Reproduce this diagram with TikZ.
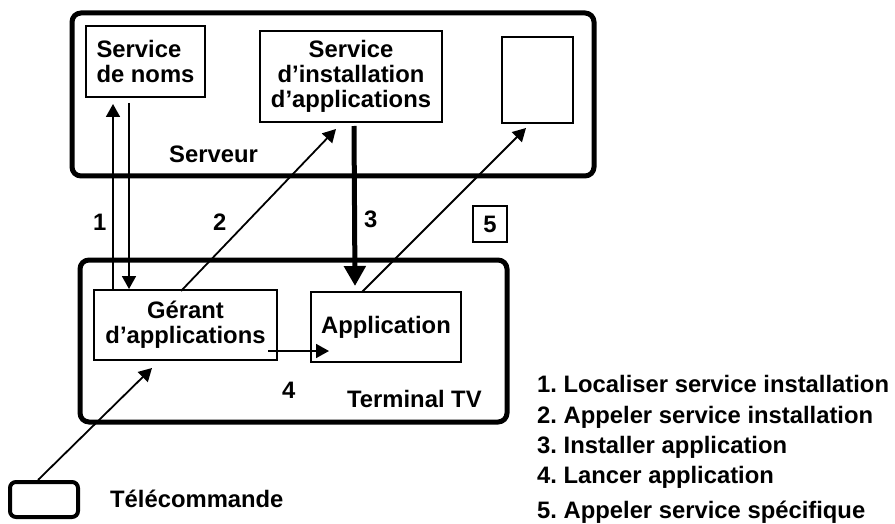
\documentclass[tikz,border=0pt]{standalone}
\usepackage{fontspec}
\setmainfont{Liberation Sans}
\usetikzlibrary{arrows.meta}
\frenchspacing
\begin{document}
\begin{tikzpicture}[x=1pt,y=-1pt,
  lbl/.style={font=\fontsize{23.8}{25}\selectfont\bfseries\frenchspacing, inner sep=0pt},
  box/.style={draw, line width=2pt, inner sep=0pt, lbl, align=center},
  frame/.style={draw, line width=5pt, rounded corners=9pt, inner sep=0pt},
  arr/.style={line width=1.8pt, -{Triangle[length=13pt,width=14pt]}},
  bigarr/.style={line width=5pt, -{Triangle[length=20pt,width=21pt]}},
]
\useasboundingbox (0,0) rectangle (895,524);

% outer frames
\node[frame, minimum width=522pt, minimum height=163pt] (serveur) at (333,94.5) {};
\node[frame, minimum width=427pt, minimum height=162pt] (terminal) at (293.5,341) {};
\node[frame, line width=4pt, rounded corners=6pt, minimum width=68pt, minimum height=35pt] (tele) at (44,499.5) {};

% server side
\node[box, align=left, minimum width=119pt, minimum height=71pt] (noms) at (145.5,61.5) {Service\\de noms};
\node[box, minimum width=182pt, minimum height=91pt] (inst) at (351,76.5) {Service\\d’installation\\d’applications};
\node[box, minimum width=71pt, minimum height=86pt] (spec) at (537.5,80) {};

% terminal side
\node[box, minimum width=183pt, minimum height=70pt] (ger) at (185.5,325) {Gérant\\d’applications};
\node[box, minimum width=150pt, minimum height=70pt] (app) at (386,327) {Application};

% labels
\node[lbl, anchor=base west] (serveurlbl) at (169,163) {Serveur};
\node[lbl, anchor=base west] (terminallbl) at (347,407) {Terminal TV};
\node[lbl, anchor=base west] (telelbl) at (110,507) {Télécommande};
\node[lbl, anchor=base west] (n1) at (93,230) {1};
\node[lbl, anchor=base west] (n2) at (213,230) {2};
\node[lbl, anchor=base west] (n3) at (364,227) {3};
\node[lbl, anchor=base west] (n4) at (282,398) {4};
\node[lbl, draw, line width=1.5pt, minimum width=34pt, minimum height=36pt] (n5) at (490,224) {5};

% connectors
\draw[arr] ([xshift=20pt]ger.north west) -- ([xshift=28pt,yshift=-6pt]noms.south west);
\draw[arr] ([xshift=44pt,yshift=-5pt]noms.south west) -- ([xshift=36pt]ger.north west);
\draw[arr] ([xshift=88pt,yshift=-2pt]ger.north west) -- ([xshift=77pt,yshift=-6pt]inst.south west);
\draw[bigarr] ([xshift=95pt,yshift=-3pt]inst.south west) -- ([xshift=45pt,yshift=5pt]app.north west);
\draw[arr] ([xshift=52pt,yshift=-1pt]app.north west) -- ([xshift=25pt,yshift=-4pt]spec.south west);
\draw[arr] ([xshift=-10pt,yshift=10pt]ger.south east) -- ([xshift=19pt,yshift=12pt]app.south west);
\draw[arr] ([xshift=-6pt]tele.north) -- ([xshift=59pt,yshift=-7pt]ger.south west);

% legend
\node[lbl, anchor=base west] (leg1) at (537,392) {1. Localiser service installation};
\node[lbl, anchor=base west] (leg2) at (537,423) {2. Appeler service installation};
\node[lbl, anchor=base west] (leg3) at (537,453) {3. Installer application};
\node[lbl, anchor=base west] (leg4) at (537,483) {4. Lancer application};
\node[lbl, anchor=base west] (leg5) at (537,518) {5. Appeler service spécifique};
\end{tikzpicture}
\end{document}
